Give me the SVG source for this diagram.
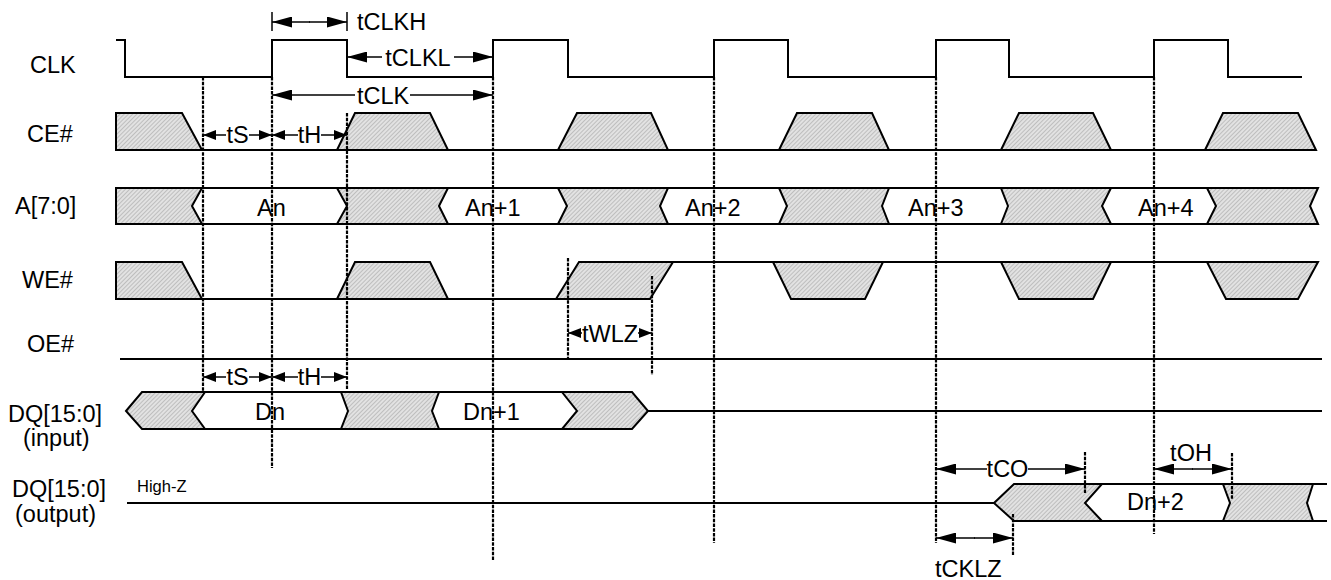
<svg xmlns="http://www.w3.org/2000/svg" width="1331" height="580" viewBox="0 0 1331 580">
<style>
text{font-family:"Liberation Sans",Arial,sans-serif;font-size:23.5px;fill:#000}
.lbl{font-size:23.5px}
.sig{fill:none;stroke:#000;stroke-width:2;stroke-linejoin:miter}
.hat{fill:url(#hatch);stroke:#000;stroke-width:2;stroke-linejoin:miter}
.dash{stroke:#000;stroke-width:2.2;stroke-dasharray:3.5,1.2;fill:none}
.arr{stroke:#000;stroke-width:1.5;fill:none;marker-end:url(#ah)}
.arrs{stroke:#000;stroke-width:1.5;fill:none;marker-end:url(#as)}
.tick{stroke:#000;stroke-width:1.5}
</style>
<defs>
<pattern id="hatch" patternUnits="userSpaceOnUse" width="3" height="3" patternTransform="rotate(45)">
<rect width="3" height="3" fill="#e2e2e2"/>
<line x1="0" y1="0" x2="0" y2="3" stroke="#9a9a9a" stroke-width="1"/>
</pattern>
<marker id="ah" viewBox="0 0 20 11" refX="20" refY="5.5" markerWidth="20" markerHeight="11" markerUnits="userSpaceOnUse" orient="auto">
<path d="M0,0 L20,5.5 L0,11 Z" fill="#000"/>
</marker>
<marker id="as" viewBox="0 0 13 10" refX="13" refY="5" markerWidth="13" markerHeight="10" markerUnits="userSpaceOnUse" orient="auto">
<path d="M0,0 L13,5 L0,10 Z" fill="#000"/>
</marker>
</defs>
<rect width="1331" height="580" fill="#fff"/>

<g id="labels">
<text class="lbl" x="30" y="73">CLK</text>
<text class="lbl" x="27" y="142">CE#</text>
<text class="lbl" x="15" y="214">A[7:0]</text>
<text class="lbl" x="22" y="288">WE#</text>
<text class="lbl" x="27" y="352">OE#</text>
<text class="lbl" x="8" y="422">DQ[15:0]</text>
<text class="lbl" x="23" y="446">(input)</text>
<text class="lbl" x="12" y="497">DQ[15:0]</text>
<text class="lbl" x="15" y="522">(output)</text>
</g>

<g id="clk">
<path class="sig" d="M116,40 H125 V77 H272 V40 H347 V77 H493 V40 H568 V77 H714 V40 H788 V77 H936 V40 H1009 V77 H1154 V40 H1228 V77 H1302"/>
</g>

<g id="ce">
<path class="hat" d="M116,113 H182 L202,150 H116 Z"/>
<path class="hat" d="M337,150 L355,113 H430 L448,150 Z"/>
<path class="hat" d="M558,150 L577,113 H651 L668,150 Z"/>
<path class="hat" d="M779,150 L797,113 H872 L889,150 Z"/>
<path class="hat" d="M1001,150 L1019,113 H1093 L1111,150 Z"/>
<path class="hat" d="M1205,150 L1223,113 H1298 L1316,150 Z"/>
<line class="sig" x1="116" y1="150" x2="1316" y2="150"/>
</g>

<g id="addr">
<path class="hat" d="M116,188 H202 L192,206 L202,224 H116 Z"/>
<path class="hat" d="M337,188 H448 L439,206 L448,224 H337 L347,206 Z"/>
<path class="hat" d="M558,188 H668 L660,206 L668,224 H558 L567,206 Z"/>
<path class="hat" d="M779,188 H889 L882,206 L889,224 H779 L787,206 Z"/>
<path class="hat" d="M1001,188 H1111 L1102,206 L1111,224 H1001 L1008,206 Z"/>
<path class="hat" d="M1207,188 H1318 L1310,206 L1318,224 H1207 L1216,206 Z"/>
<line class="sig" x1="116" y1="188" x2="1318" y2="188"/>
<line class="sig" x1="116" y1="224" x2="1318" y2="224"/>
<text x="257" y="216">An</text>
<text x="465" y="216">An+1</text>
<text x="685" y="216">An+2</text>
<text x="908" y="216">An+3</text>
<text x="1138" y="216">An+4</text>
</g>

<g id="we">
<path class="hat" d="M116,262 H182 L202,299 H116 Z"/>
<path class="hat" d="M337,299 L355,262 H430 L448,299 Z"/>
<path class="hat" d="M556,299 L579,262 H673 L650,299 Z"/>
<path class="hat" d="M773,262 H883 L865,299 H791 Z"/>
<path class="hat" d="M1001,262 H1111 L1093,299 H1019 Z"/>
<path class="hat" d="M1207,262 H1318 L1298,299 H1226 Z"/>
<line class="sig" x1="116" y1="299" x2="556" y2="299"/>
<line class="sig" x1="673" y1="262" x2="1318" y2="262"/>
</g>

<g id="oe">
<line class="sig" x1="120" y1="359" x2="1322" y2="359"/>
</g>

<g id="dq-in">
<path class="hat" d="M126,411 L142,392 H205 L192,411 L205,429 H142 Z"/>
<path class="hat" d="M341,392 H439 L432,411 L439,429 H341 L348,411 Z"/>
<path class="hat" d="M562,392 H632 L648,411 L632,429 H562 L577,411 Z"/>
<line class="sig" x1="142" y1="392" x2="632" y2="392"/>
<line class="sig" x1="142" y1="429" x2="632" y2="429"/>
<line class="sig" x1="648" y1="411" x2="1322" y2="411"/>
<text x="255" y="420">Dn</text>
<text x="463" y="420">Dn+1</text>
</g>

<g id="dq-out">
<text x="137" y="492" style="font-size:16.5px">High-Z</text>
<line class="sig" x1="127" y1="503" x2="994" y2="503"/>
<path class="hat" d="M994,503 L1014,484 H1102 L1085,503 L1102,521 H1014 Z"/>
<path class="hat" d="M1223,484 H1313 L1307,503 L1313,521 H1223 L1230,503 Z"/>
<line class="sig" x1="1014" y1="484" x2="1327" y2="484"/>
<line class="sig" x1="1014" y1="521" x2="1327" y2="521"/>
<text x="1127" y="510">Dn+2</text>
</g>

<g id="connectors">
<line class="dash" x1="203" y1="77" x2="203" y2="392"/>
<line class="dash" x1="272" y1="77" x2="272" y2="468"/>
<line class="dash" x1="347" y1="113" x2="347" y2="390"/>
<line class="dash" x1="493" y1="77" x2="493" y2="560"/>
<line class="dash" x1="714" y1="77" x2="714" y2="543"/>
<line class="dash" x1="936" y1="77" x2="936" y2="543"/>
<line class="dash" x1="1154" y1="77" x2="1154" y2="534"/>
<line class="dash" x1="568" y1="258" x2="568" y2="359"/>
<line class="dash" x1="652" y1="276" x2="652" y2="375"/>
<line class="dash" x1="1085" y1="452" x2="1085" y2="493"/>
<line class="dash" x1="1232" y1="453" x2="1232" y2="500"/>
<line class="dash" x1="1013" y1="514" x2="1013" y2="555"/>

<line class="tick" x1="272" y1="12" x2="272" y2="31"/>
<line class="tick" x1="347" y1="12" x2="347" y2="31"/>
<line class="arr" x1="310" y1="22" x2="272" y2="22"/>
<line class="arr" x1="309" y1="22" x2="347" y2="22"/>
<text x="357" y="30">tCLKH</text>

<line class="arr" x1="382" y1="57" x2="347" y2="57"/>
<line class="arr" x1="454" y1="57" x2="493" y2="57"/>
<text x="418" y="66" text-anchor="middle">tCLKL</text>

<line class="arr" x1="355" y1="95" x2="272" y2="95"/>
<line class="arr" x1="410" y1="95" x2="493" y2="95"/>
<text x="383" y="104" text-anchor="middle">tCLK</text>

<line class="arrs" x1="226" y1="135" x2="203" y2="135"/>
<line class="arrs" x1="249" y1="135" x2="272" y2="135"/>
<text x="237.5" y="143" text-anchor="middle">tS</text>
<line class="arrs" x1="298" y1="135" x2="272" y2="135"/>
<line class="arrs" x1="321" y1="135" x2="347" y2="135"/>
<text x="309.5" y="143" text-anchor="middle">tH</text>

<line class="arrs" x1="226" y1="377" x2="203" y2="377"/>
<line class="arrs" x1="249" y1="377" x2="272" y2="377"/>
<text x="237.5" y="385" text-anchor="middle">tS</text>
<line class="arrs" x1="298" y1="377" x2="272" y2="377"/>
<line class="arrs" x1="321" y1="377" x2="347" y2="377"/>
<text x="309.5" y="385" text-anchor="middle">tH</text>

<line class="arrs" x1="582" y1="333" x2="568" y2="333"/>
<line class="arrs" x1="638" y1="333" x2="652" y2="333"/>
<text x="610" y="342" text-anchor="middle">tWLZ</text>

<line class="arr" x1="987" y1="469" x2="936" y2="469"/>
<line class="arr" x1="1028" y1="469" x2="1085" y2="469"/>
<text x="1007.5" y="477" text-anchor="middle">tCO</text>

<line class="arr" x1="1193" y1="469" x2="1154" y2="469"/>
<line class="arr" x1="1192" y1="469" x2="1232" y2="469"/>
<text x="1191" y="461" text-anchor="middle">tOH</text>

<line class="arr" x1="975" y1="538" x2="936" y2="538"/>
<line class="arr" x1="974" y1="538" x2="1013" y2="538"/>
<text x="935" y="577">tCKLZ</text>
</g>
</svg>
